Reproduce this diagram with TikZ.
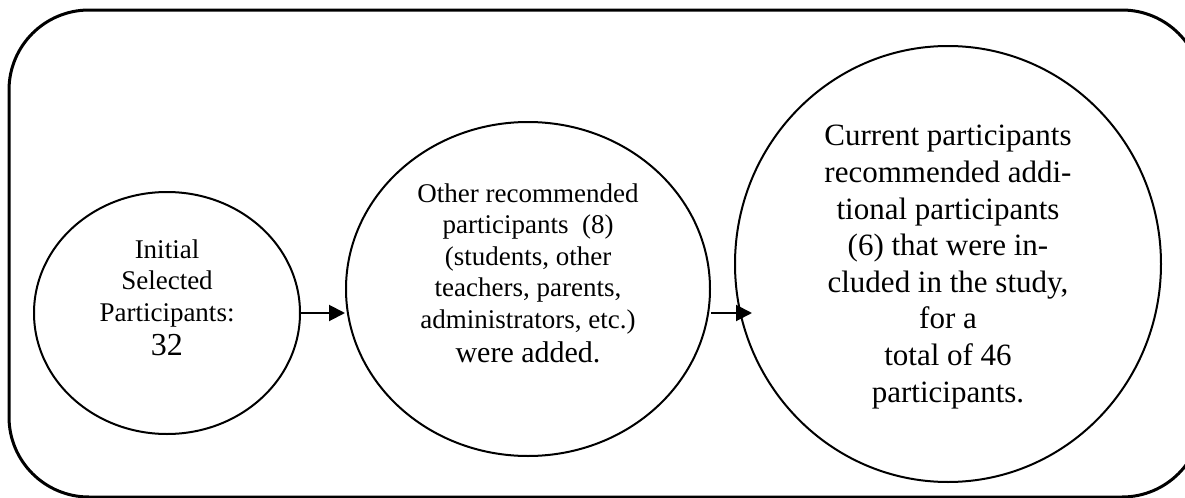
\documentclass[tikz,border=0pt]{standalone}
\usepackage{fontspec}
\setmainfont{Liberation Serif}
\usetikzlibrary{shapes.geometric,arrows.meta,positioning}

\begin{document}
\begin{tikzpicture}[
x=0.5pt,y=-0.5pt,
Frame/.style={draw=black,line width=1.5pt,rounded corners=40pt},
Bubble/.style={draw=black,line width=1pt,ellipse,inner sep=0pt},
Words/.style={align=center,inner sep=0pt,font=\fontsize{13.5}{15.75}\selectfont},
BigWords/.style={align=center,inner sep=0pt,font=\fontsize{15.5}{18.3}\selectfont},
Arrows/.style={draw=black,line width=1pt,-{Triangle[length=8pt,width=8pt]}}
]
\useasboundingbox (0,0) rectangle (1185,498);
\clip (0,0) rectangle (1185,498);

% outer frame, runs past the right and bottom edge
\draw[Frame] (9,10) rectangle (1202,497);

% the three stages
\node[Bubble,minimum width=133pt,minimum height=121pt] (init) at (167,313) {};
\node[Bubble,minimum width=182pt,minimum height=167pt] (other) at (528,289) {};
\node[Bubble,minimum width=213pt,minimum height=218pt] (final) at (948,264) {};

\node[Words,yshift=7.75pt] (initText) at (init) {Initial\\Selected\\Participants:\\[1.25pt]{\fontsize{16}{17}\selectfont 32}};
\node[Words,yshift=8pt] (otherText) at (other) {Other recommended\\participants\ \ (8)\\(students, other\\teachers, parents,\\administrators, etc.)\\[1.25pt]{\fontsize{15}{17}\selectfont were added.}};
\node[BigWords,yshift=-1.5pt] (finalText) at (final) {Current participants\\recommended addi-\\tional participants\\(6) that were in-\\cluded in the study,\\for a\\total of 46\\participants.};

% connectors
\draw[Arrows] (init.east) -- (init.east -| other.west);
\draw[Arrows] (init.east -| other.east) -- ([xshift=9pt]init.east -| final.west);

\end{tikzpicture}
\end{document}
